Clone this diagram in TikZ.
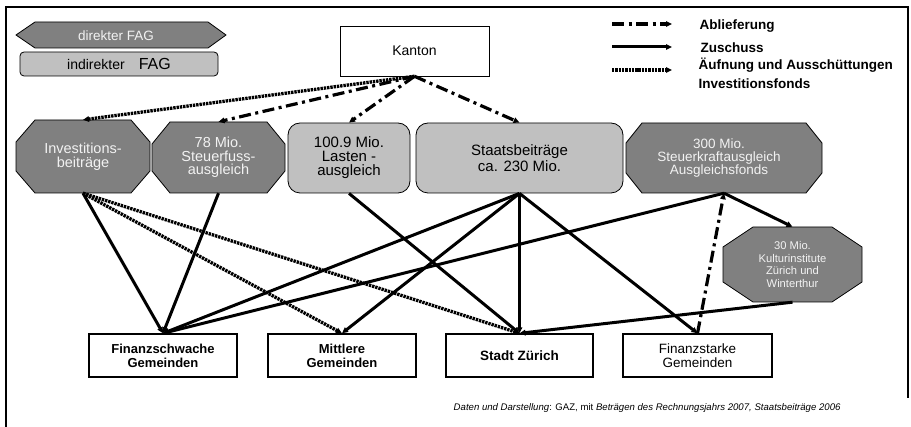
\documentclass[tikz,border=0pt]{standalone}
\usepackage{fontspec}
\setmainfont{Liberation Sans}
\usetikzlibrary{arrows.meta}
\definecolor{dg}{RGB}{128,128,128}
\definecolor{lg}{RGB}{192,192,192}
\definecolor{wt}{RGB}{242,242,242}
\newcommand{\myfs}[2]{\fontsize{#1}{#2}\selectfont}
\newcommand{\octshape}[6]{%
  \draw[octline] (#1+#5,#2) -- (#3-#5,#2) -- (#3,#2+#6) -- (#3,#4-#6) -- (#3-#5,#4) -- (#1+#5,#4) -- (#1,#4-#6) -- (#1,#2+#6) -- cycle;}
\begin{document}
\begin{tikzpicture}[x=1pt,y=-1pt,
  tip/.style={-{Triangle[length=6pt,width=5.5pt]}},
  zus/.style={line width=3pt,tip},
  abl/.style={line width=3.2pt,dash pattern=on 12pt off 4.5pt on 3pt off 4.5pt,tip},
  aufn/.style={line width=3.3pt,dash pattern=on 2.4pt off 0.9pt,tip},
  octline/.style={draw=black,fill=dg,line width=0.8pt},
  octtext/.style={text=wt,align=center,inner sep=0pt},
  roundbox/.style={draw=black,fill=lg,line width=0.8pt,rounded corners=12pt,align=center,inner sep=0pt},
  gbox/.style={draw=black,fill=white,line width=1.4pt,align=center,inner sep=0pt,minimum height=43pt},
  legtext/.style={anchor=base west,font=\bfseries\myfs{13.5}{15}}
]
\useasboundingbox (0,0) rectangle (911,427);
% frame
\draw[line width=2pt] (6,427) -- (6,7) -- (908,7) -- (908,398);

% legend boxes
\draw[octline] (16,35) -- (35,22) -- (208,22) -- (226,35) -- (208,48) -- (35,48) -- cycle;
\node[text=wt,font=\myfs{13.5}{15}] (dir) at (116,35.5) {direkter FAG};
\node[draw=black,fill=lg,line width=0.8pt,rounded corners=4pt,minimum width=198pt,minimum height=24pt,inner sep=0pt] (indir) at (119,64)
  {\myfs{14}{16}indirekter\quad{\myfs{16}{18}FAG}};

% Kanton
\node[draw=black,fill=white,line width=0.6pt,minimum width=149pt,minimum height=50pt,font=\myfs{14}{15}] (kanton) at (414.5,51) {Kanton};

% legend lines
\coordinate (la1) at (612,24); \coordinate (la2) at (672,24);
\coordinate (lb1) at (612,47); \coordinate (lb2) at (672,47);
\coordinate (lc1) at (612,70); \coordinate (lc2) at (672,70);
\draw[abl] (la1) -- (la2);
\draw[zus] (lb1) -- (lb2);
\draw[aufn] (lc1) -- (lc2);
\node[legtext] (ta) at (696,29.5) {Ablieferung};
\node[legtext] (tb) at (697,52.5) {Zuschuss};
\node[legtext] (tc) at (695,70) {Äufnung und Ausschüttungen};
\node[legtext] (td) at (695,89) {Investitionsfonds};

% top row
\octshape{16}{120}{150}{193}{19}{22}
\node[octtext,minimum width=134pt,minimum height=73pt,font=\myfs{14.5}{14}] (inv) at (83,156.5) {Investitions-\\beiträge};
\octshape{152}{122}{285}{193}{18}{22}
\node[octtext,minimum width=133pt,minimum height=71pt,font=\myfs{14.5}{13.5}] (st78) at (218.5,157.5) {78 Mio.\\Steuerfuss-\\ausgleich};
\node[roundbox,minimum width=122pt,minimum height=70pt,font=\myfs{15}{14}] (lasten) at (349,158) {100.9 Mio.\\Lasten -\\ausgleich};
\node[roundbox,minimum width=207pt,minimum height=70pt,font=\myfs{15}{16}] (staats) at (519.5,158) {Staatsbeiträge\\ca. 230 Mio.};
\octshape{626}{123}{822}{193}{16}{20}
\node[octtext,minimum width=196pt,minimum height=70pt,font=\myfs{13.5}{13}] (s300) at (724,158) {\hspace*{-10pt}300 Mio.\\\hspace*{-10pt}Steuerkraftausgleich\\\hspace*{-10pt}Ausgleichsfonds};
\octshape{723}{227}{862}{302}{30}{20}
\node[octtext,minimum width=139pt,minimum height=75pt,font=\myfs{11.2}{12.5}] (kultur) at (792.5,264.5) {30 Mio.\\Kulturinstitute\\Zürich und\\Winterthur};

% bottom row
\node[gbox,minimum width=148pt,font=\bfseries\myfs{13}{14}] (finS) at (163,355.5) {Finanzschwache\\Gemeinden};
\node[gbox,minimum width=148pt,font=\bfseries\myfs{13}{14}] (mitt) at (342,355.5) {Mittlere\\Gemeinden};
\node[gbox,minimum width=147pt,font=\bfseries\myfs{13.5}{14}] (stadt) at (519.5,355.5) {Stadt Zürich};
\node[gbox,minimum width=149pt,font=\myfs{13.5}{14}] (finSt) at (697.5,355.5) {Finanzstarke\\Gemeinden};

% connectors
\draw[aufn] (kanton.south) -- (inv.north);
\draw[abl] (kanton.south) -- (st78.north);
\draw[abl] (kanton.south) -- (lasten.north);
\draw[abl] (kanton.south) -- (staats.north);
\draw[zus] (inv.south) -- (finS.north);
\draw[aufn] (inv.south) -- (mitt.north);
\draw[aufn] (inv.south) -- (stadt.north);
\draw[zus] (st78.south) -- (finS.north);
\draw[zus] (lasten.south) -- (stadt.north);
\draw[zus] (staats.south) -- (finS.north);
\draw[zus] (staats.south) -- (mitt.north);
\draw[zus] (staats.south) -- (stadt.north);
\draw[zus] (staats.south) -- (finSt.north);
\draw[zus] (s300.south) -- (finS.north);
\draw[zus] (s300.south) -- (kultur.north);
\draw[zus] (kultur.south) -- (stadt.north);
\draw[abl] (finSt.north) -- (s300.south);

% footer
\node[anchor=base east,font=\myfs{9.6}{11}] (foot) at (844,411)
  {\textit{Daten und Darstellung}: GAZ, mit \textit{Beträgen des Rechnungsjahrs 2007, Staatsbeiträge 2006}};
\end{tikzpicture}
\end{document}
